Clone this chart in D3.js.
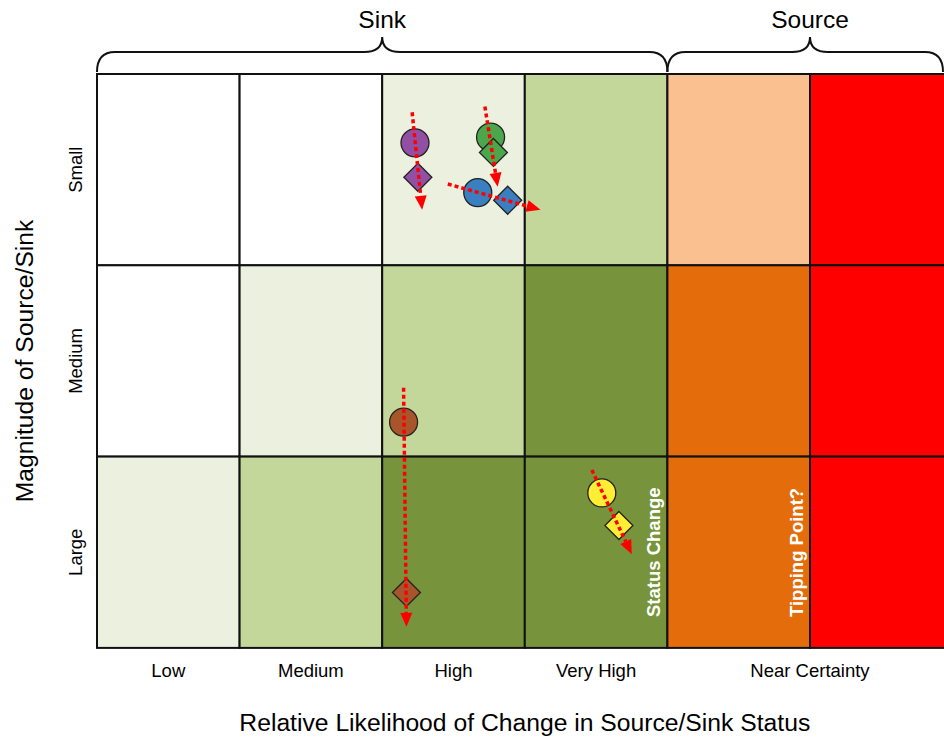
<!DOCTYPE html>
<meta charset="utf-8">
<html>
<script src="https://d3js.org/d3.v7.min.js"></script>
<style>
  body { margin: 0; background: #fff; }
  text { font-family: Arial, "Liberation Sans", sans-serif; }
</style>
<div id="chart"></div>
<script>

// likelihood (columns) and magnitude (rows)
var xLabels = ["Low", "Medium", "High", "Very High", "Near Certainty"];
var xLabelSpan = [1, 1, 1, 1, 2];
var yLabels = ["Small", "Medium", "Large"];

// cell level per row (Small, Medium, Large), 6 columns
var levelSmall  = [0, 0, 1, 2, 4, 6];
var levelMedium = [0, 1, 2, 3, 5, 6];
var levelLarge  = [1, 2, 3, 3, 5, 6];
var levelColors = ["#ffffff", "#ebf1de", "#c4d79b", "#77933c", "#fac090", "#e46c0a", "#ff0000"];

// groups across the top
var groupNames = ["Sink", "Source"];
var groupFrom = [0, 4];
var groupTo = [4, 6];

// sites: circle = now, diamond = later, arrow = trend (grid units)
var siteColors = ["#9150a4", "#4ca64c", "#3a7fc0", "#a9552b", "#ffee33"];
var circleX  = [2.23, 2.76, 2.67, 2.15, 3.54];
var circleY  = [0.36, 0.33, 0.62, 1.82, 2.19];
var diamondX = [2.25, 2.78, 2.88, 2.17, 3.66];
var diamondY = [0.54, 0.41, 0.66, 2.71, 2.36];
var arrowX0  = [2.21, 2.72, 2.46, 2.15, 3.47];
var arrowY0  = [0.20, 0.17, 0.575, 1.64, 2.07];
var arrowX1  = [2.28, 2.81, 3.11, 2.17, 3.75];
var arrowY1  = [0.71, 0.59, 0.71, 2.89, 2.51];

var notes = ["Status Change", "Tipping Point?"];
var noteX = [3.9, 4.9];

var width = 944, height = 739;
var gridLeft = 97, gridTop = 74, colW = 142.6, rowH = 191.3;

var svg = d3.select("#chart").append("svg")
    .attr("width", width)
    .attr("height", height);

var x = d3.scaleLinear().domain([0, 6]).range([gridLeft, gridLeft + 6 * colW]);
var y = d3.scaleLinear().domain([0, 3]).range([gridTop, gridTop + 3 * rowH]);
var color = d3.scaleOrdinal().domain(d3.range(levelColors.length)).range(levelColors);

var levels = [levelSmall, levelMedium, levelLarge];
var cells = [];
levels.forEach(function(row, r) {
  row.forEach(function(lv, c) { cells.push({r: r, c: c, lv: lv}); });
});

svg.append("g").selectAll("rect")
  .data(cells)
  .enter().append("rect")
    .attr("x", function(d) { return x(d.c); })
    .attr("y", function(d) { return y(d.r); })
    .attr("width", x(1) - x(0))
    .attr("height", y(1) - y(0))
    .attr("fill", function(d) { return color(d.lv); })
    .attr("stroke", "#111")
    .attr("stroke-width", 2);

// braces
function brace(a, b) {
  var x0 = x(a), x1 = Math.min(x(b), 943), xm = (x(a) + x(b)) / 2, yb = 72, yl = 52, yt = 37, r = 18;
  return "M" + x0 + "," + yb + " Q" + x0 + "," + yl + " " + (x0 + r) + "," + yl +
    " L" + (xm - r) + "," + yl + " Q" + xm + "," + yl + " " + xm + "," + yt +
    " Q" + xm + "," + yl + " " + (xm + r) + "," + yl +
    " L" + (x1 - r) + "," + yl + " Q" + x1 + "," + yl + " " + x1 + "," + yb;
}
groupNames.forEach(function(g, i) {
  svg.append("path")
    .attr("d", brace(groupFrom[i], groupTo[i]))
    .attr("fill", "none")
    .attr("stroke", "#111")
    .attr("stroke-width", 2);
  svg.append("text")
    .attr("x", (x(groupFrom[i]) + x(groupTo[i])) / 2)
    .attr("y", 28)
    .attr("text-anchor", "middle")
    .style("font-size", "24.5px")
    .text(g);
});

// column labels
var acc = 0;
xLabels.forEach(function(l, i) {
  svg.append("text")
    .attr("x", x(acc + xLabelSpan[i] / 2))
    .attr("y", 677)
    .attr("text-anchor", "middle")
    .style("font-size", "18.5px")
    .text(l);
  acc += xLabelSpan[i];
});

// row labels
yLabels.forEach(function(l, i) {
  svg.append("text")
    .attr("transform", "translate(82," + y(i + 0.5) + ") rotate(-90)")
    .attr("text-anchor", "middle")
    .style("font-size", "18.5px")
    .text(l);
});

svg.append("text")
  .attr("x", (x(0) + x(6)) / 2)
  .attr("y", 731)
  .attr("text-anchor", "middle")
  .style("font-size", "24.7px")
  .text("Relative Likelihood of Change in Source/Sink Status");

svg.append("text")
  .attr("transform", "translate(33," + y(1.5) + ") rotate(-90)")
  .attr("text-anchor", "middle")
  .style("font-size", "24.7px")
  .text("Magnitude of Source/Sink");

// white notes in bottom row
notes.forEach(function(n, i) {
  svg.append("text")
    .attr("transform", "translate(" + (x(noteX[i]) + 7) + "," + 617 + ") rotate(-90)")
    .attr("text-anchor", "start")
    .attr("fill", "#fff")
    .style("font-size", "18.5px")
    .style("font-weight", "bold")
    .text(n);
});

// markers
var dr = 14;
var sites = d3.range(siteColors.length);
var g = svg.append("g");
sites.forEach(function(i) {
  g.append("circle")
    .attr("cx", x(circleX[i]))
    .attr("cy", y(circleY[i]))
    .attr("r", 14)
    .attr("fill", siteColors[i])
    .attr("stroke", "#222")
    .attr("stroke-width", 1.3);
  var cx = x(diamondX[i]), cy = y(diamondY[i]);
  g.append("path")
    .attr("d", "M" + cx + "," + (cy - dr) + " L" + (cx + dr) + "," + cy + " L" + cx + "," + (cy + dr) + " L" + (cx - dr) + "," + cy + "Z")
    .attr("fill", siteColors[i])
    .attr("stroke", "#222")
    .attr("stroke-width", 1.3);
});

// trend arrows
sites.forEach(function(i) {
  var x0 = x(arrowX0[i]), y0 = y(arrowY0[i]), x1 = x(arrowX1[i]), y1 = y(arrowY1[i]);
  var dx = x1 - x0, dy = y1 - y0, len = Math.sqrt(dx * dx + dy * dy);
  var ux = dx / len, uy = dy / len, hl = 14, hw = 6;
  var bx = x1 - ux * hl, by = y1 - uy * hl;
  g.append("line")
    .attr("x1", x0).attr("y1", y0)
    .attr("x2", bx).attr("y2", by)
    .attr("stroke", "#ff0000")
    .attr("stroke-width", 3.5)
    .attr("stroke-dasharray", "4,3");
  g.append("path")
    .attr("d", "M" + x1 + "," + y1 + " L" + (bx - uy * hw) + "," + (by + ux * hw) + " L" + (bx + uy * hw) + "," + (by - ux * hw) + "Z")
    .attr("fill", "#ff0000");
});

</script>
</html>
